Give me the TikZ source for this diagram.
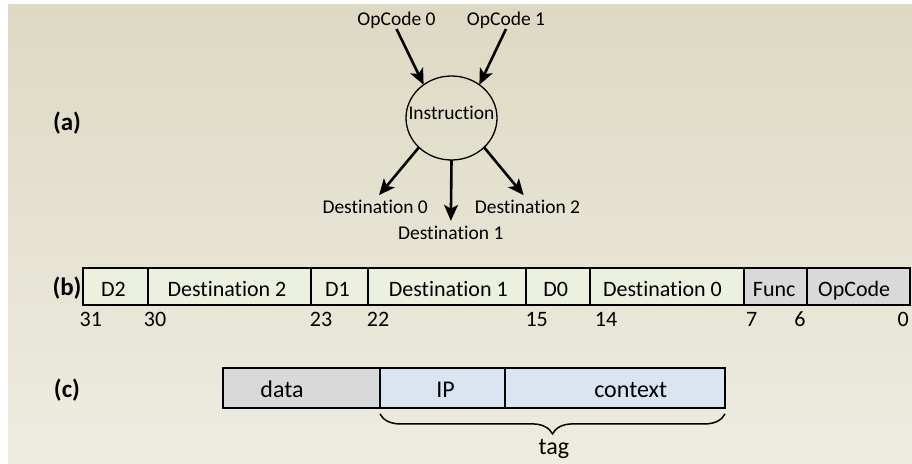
\documentclass[tikz,border=0pt]{standalone}
\usepackage{fontspec}
\setmainfont[Ligatures=NoCommon]{Carlito}
\usetikzlibrary{arrows.meta,decorations.pathreplacing,shapes.geometric,calc}
\definecolor{bgtop}{HTML}{DDD9C3}
\definecolor{bgbot}{HTML}{EEECE1}
\definecolor{fgreen}{HTML}{EBF1DE}
\definecolor{fgray}{HTML}{D9D9D9}
\definecolor{fblue}{HTML}{DBE5F1}
\begin{document}
\begin{tikzpicture}[x=1pt,y=-1pt,
  every node/.style={inner sep=0pt,outer sep=0pt},
  txt/.style={anchor=base,font=\fontsize{19.5}{23}\selectfont,text height=13.5pt,text depth=4pt},
  txtb/.style={anchor=base,font=\fontsize{22}{26}\selectfont},
  txtc/.style={anchor=base,font=\fontsize{24}{28}\selectfont},
  part/.style={anchor=base,font=\fontsize{25}{29}\selectfont\bfseries},
  fieldb/.style={draw,line width=2pt,minimum height=37pt},
  fieldc/.style={draw,line width=2pt,minimum height=40pt},
  arr/.style={line width=2.6pt,-{Stealth[length=16pt,width=14pt,inset=4pt]}}]
\useasboundingbox (0,0) rectangle (912,463);
\fill[white] (0,0) rectangle (912,463);
\shade[top color=bgtop,bottom color=bgbot] (8,4) rectangle (912,463);

% (a)
\node[part] (pa) at (67,130) {(a)};
\node[ellipse,draw,line width=1.3pt,minimum width=91pt,minimum height=84pt] (instr) at (451.5,118) {};
\node[txt] (instrlbl) at (451.5,119) {Instruction};
\node[txt] (op0) at (396.5,25) {OpCode 0};
\node[txt] (op1) at (506,25) {OpCode 1};
\node[txt] (dst0) at (375.2,213.3) {Destination 0};
\node[txt] (dst1) at (450.8,239.3) {Destination 1};
\node[txt] (dst2) at (527.5,213.3) {Destination 2};
\draw[arr] (op0.south) -- (instr.130);
\draw[arr] (op1.south) -- (instr.50);
\draw[arr,shorten >=6pt] (instr.222) -- (dst0.north);
\draw[arr,shorten >=5pt] (instr.270) -- (dst1.north);
\draw[arr,shorten >=6pt] (instr.318) -- (dst2.north);

% (b)
\node[part] (pb) at (67,295.5) {(b)};
\node[fieldb,fill=fgreen,minimum width=65pt] (bD2) at (115.5,286.5) {};
\node[fieldb,fill=fgreen,minimum width=163pt] (bDest2) at (229.5,286.5) {};
\node[fieldb,fill=fgreen,minimum width=57pt] (bD1) at (339.5,286.5) {};
\node[fieldb,fill=fgreen,minimum width=158pt] (bDest1) at (447,286.5) {};
\node[fieldb,fill=fgreen,minimum width=64pt] (bD0) at (558,286.5) {};
\node[fieldb,fill=fgreen,minimum width=153.5pt] (bDest0) at (666.75,286.5) {};
\node[fieldb,fill=fgray,minimum width=63.5pt] (bFunc) at (775.25,286.5) {};
\node[fieldb,fill=fgray,minimum width=103pt] (bOp) at (858.5,286.5) {};
\node[txtb] (tD2) at (113.5,296.7) {D2};
\node[txtb] (tDest2) at (227,296.7) {Destination 2};
\node[txtb] (tD1) at (337.5,296.7) {D1};
\node[txtb] (tDest1) at (448.3,296.7) {Destination 1};
\node[txtb] (tD0) at (555.8,296.7) {D0};
\node[txtb] (tDest0) at (662.5,296.7) {Destination 0};
\node[txtb] (tFunc) at (774.2,296.7) {Func};
\node[txtb] (tOp) at (854.2,296.7) {OpCode};
\node[txtb] (n31) at (90.8,326.7) {31};
\node[txtb] (n30) at (155,326.7) {30};
\node[txtb] (n23) at (321,326.7) {23};
\node[txtb] (n22) at (378,326.7) {22};
\node[txtb] (n15) at (536.7,326.7) {15};
\node[txtb] (n14) at (606,326.7) {14};
\node[txtb] (n7) at (751.7,326.7) {7};
\node[txtb] (n6) at (800,326.7) {6};
\node[txtb] (n0) at (903.3,326.7) {0};

% (c)
\node[part] (pc) at (67,397) {(c)};
\node[fieldc,fill=fgray,minimum width=157pt] (cdata) at (301.5,388.4) {};
\node[fieldc,fill=fblue,minimum width=125pt] (cip) at (442.5,388.4) {};
\node[fieldc,fill=fblue,minimum width=220pt] (cctx) at (615,388.4) {};
\node[txtc] (tdata) at (282,397.7) {data};
\node[txtc] (tip) at (445.5,397.7) {IP};
\node[txtc] (tctx) at (630.7,397.7) {context};
\draw[line width=1.5pt,decorate,decoration={brace,mirror,amplitude=20pt}]
  ($(cip.south west)+(0,5.5)$) -- ($(cctx.south east)+(0,5.5)$);
\node[txtc] (ttag) at (554,454) {tag};
\end{tikzpicture}
\end{document}
